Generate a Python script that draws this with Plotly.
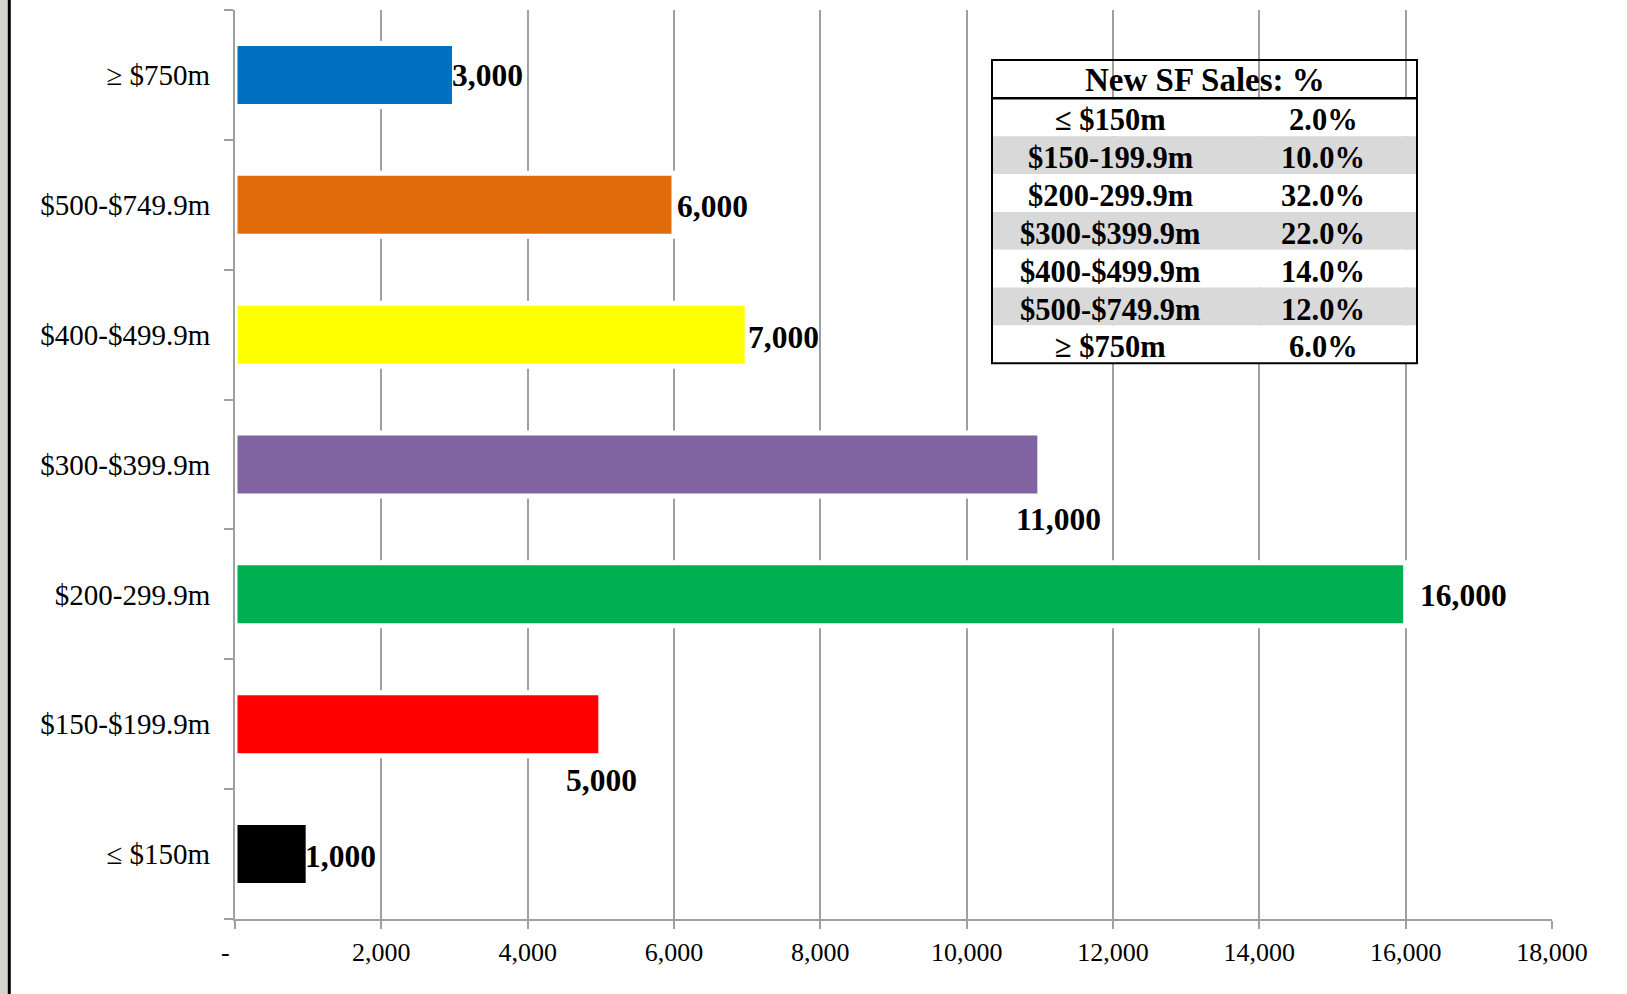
import plotly.graph_objects as go

# ---------------- data ----------------
categories = ["≤ $150m", "$150-$199.9m", "$200-299.9m", "$300-$399.9m",
              "$400-$499.9m", "$500-$749.9m", "≥ $750m"]
sales = [1000, 5000, 16000, 11000, 7000, 6000, 3000]
bar_colors = ["#000000", "#FF0000", "#00B050", "#8064A2",
              "#FFFF00", "#E36C0A", "#0070C0"]

table_title = "New SF Sales: %"
table_labels = ["≤ $150m", "$150-199.9m", "$200-299.9m", "$300-$399.9m",
                "$400-$499.9m", "$500-$749.9m", "≥ $750m"]
table_pcts = ["2.0%", "10.0%", "32.0%", "22.0%", "14.0%", "12.0%", "6.0%"]

x_tickvals = [0, 2000, 4000, 6000, 8000, 10000, 12000, 14000, 16000, 18000]
x_ticktext = ["-\u00a0\u00a0\u00a0", "2,000", "4,000", "6,000", "8,000", "10,000",
              "12,000", "14,000", "16,000", "18,000"]

# label placement (style): (xanchor, xshift, yshift) per category
label_place = [("left", -5, -2), ("center", 1, -56), ("left", 12, -1),
               ("center", 19, -55), ("left", -1, -3), ("left", 1, -2), ("left", -5, -1)]

# ---------------- geometry ----------------
W, H = 1627, 994
L, R, T, B = 235, 75, 10, 75
PW, PH = W - L - R, H - T - B


def px(xp):
    return (xp - L) / PW


def py(yp):
    return 1 - (yp - T) / PH


SERIF = "Liberation Serif"
GRID = "#A0A0A0"

fig = go.Figure()
fig.add_trace(go.Bar(
    y=categories, x=sales, orientation="h",
    marker=dict(color=bar_colors, line=dict(color="white", width=5)),
    width=0.485, hoverinfo="x+y", showlegend=False,
))

annotations = []
for cat, val, (xa, xs, ys) in zip(categories, sales, label_place):
    annotations.append(dict(
        x=val, y=cat, xref="x", yref="y", text=f"<b>{val:,}</b>",
        showarrow=False, xanchor=xa, yanchor="middle", xshift=xs, yshift=ys,
        font=dict(family=SERIF, size=31.5, color="black"),
    ))

shapes = []
# left slide strip
shapes.append(dict(type="rect", xref="paper", yref="paper", x0=px(0), x1=px(8),
                   y0=py(H), y1=py(0), fillcolor="#D4D4CE", line=dict(width=0),
                   layer="above"))
shapes.append(dict(type="line", xref="paper", yref="paper", x0=px(9.3), x1=px(9.3),
                   y0=py(H), y1=py(0), line=dict(color="black", width=3),
                   layer="above"))

# table
tx0, tx1 = 992, 1417
ty_top, ty_head = 60, 98.3
row_h = 37.86
col1, col2 = 1110, 1323
for i, (lab, pct) in enumerate(zip(table_labels, table_pcts)):
    r0 = ty_head + i * row_h
    r1 = r0 + row_h
    shapes.append(dict(type="rect", xref="paper", yref="paper",
                       x0=px(tx0), x1=px(tx1), y0=py(r1), y1=py(r0),
                       fillcolor="#D9D9D9" if i % 2 == 1 else "white",
                       line=dict(width=0), layer="above"))
    yc = py((r0 + r1) / 2 + 3)
    annotations.append(dict(x=px(col1), y=yc, xref="paper", yref="paper",
                            text=f"<b>{lab}</b>", showarrow=False,
                            xanchor="center", yanchor="middle",
                            font=dict(family=SERIF, size=30.5, color="black")))
    annotations.append(dict(x=px(col2), y=yc, xref="paper", yref="paper",
                            text=f"<b>{pct}</b>", showarrow=False,
                            xanchor="center", yanchor="middle",
                            font=dict(family=SERIF, size=30.5, color="black")))
ty_bot = ty_head + len(table_labels) * row_h
shapes.append(dict(type="rect", xref="paper", yref="paper",
                   x0=px(tx0), x1=px(tx1), y0=py(ty_bot), y1=py(ty_top),
                   fillcolor="rgba(0,0,0,0)", line=dict(color="black", width=2),
                   layer="above"))
shapes.append(dict(type="line", xref="paper", yref="paper",
                   x0=px(tx0), x1=px(tx1), y0=py(ty_head), y1=py(ty_head),
                   line=dict(color="black", width=2.5), layer="above"))
annotations.append(dict(x=px((tx0 + tx1) / 2), y=py((ty_top + ty_head) / 2 + 1),
                        xref="paper", yref="paper", text=f"<b>{table_title}</b>",
                        showarrow=False, xanchor="center", yanchor="middle",
                        font=dict(family=SERIF, size=33, color="black")))

fig.update_layout(
    width=W, height=H,
    margin=dict(l=L, r=R, t=T, b=B, pad=0),
    paper_bgcolor="white", plot_bgcolor="white",
    bargap=0.5,
    xaxis=dict(range=[0, 18000], tickvals=x_tickvals, ticktext=x_ticktext,
               showgrid=True, gridcolor=GRID, gridwidth=2, zeroline=False,
               showline=True, linecolor=GRID, linewidth=2,
               ticks="outside", ticklen=8, tickwidth=2, tickcolor=GRID,
               ticklabelstandoff=1,
               tickfont=dict(family=SERIF, size=26, color="black"),
               fixedrange=True),
    yaxis=dict(type="category", categoryorder="array", categoryarray=categories,
               tickson="boundaries", showgrid=False, zeroline=False,
               showline=True, linecolor=GRID, linewidth=2,
               ticks="outside", ticklen=9, tickwidth=2, tickcolor=GRID,
               ticklabelstandoff=17,
               tickfont=dict(family=SERIF, size=29, color="black"),
               fixedrange=True),
    annotations=annotations,
    shapes=shapes,
)

fig.write_html("out.html",
               config={"displayModeBar": False},
               post_script="document.body.style.margin='0';document.body.style.padding='0';")
